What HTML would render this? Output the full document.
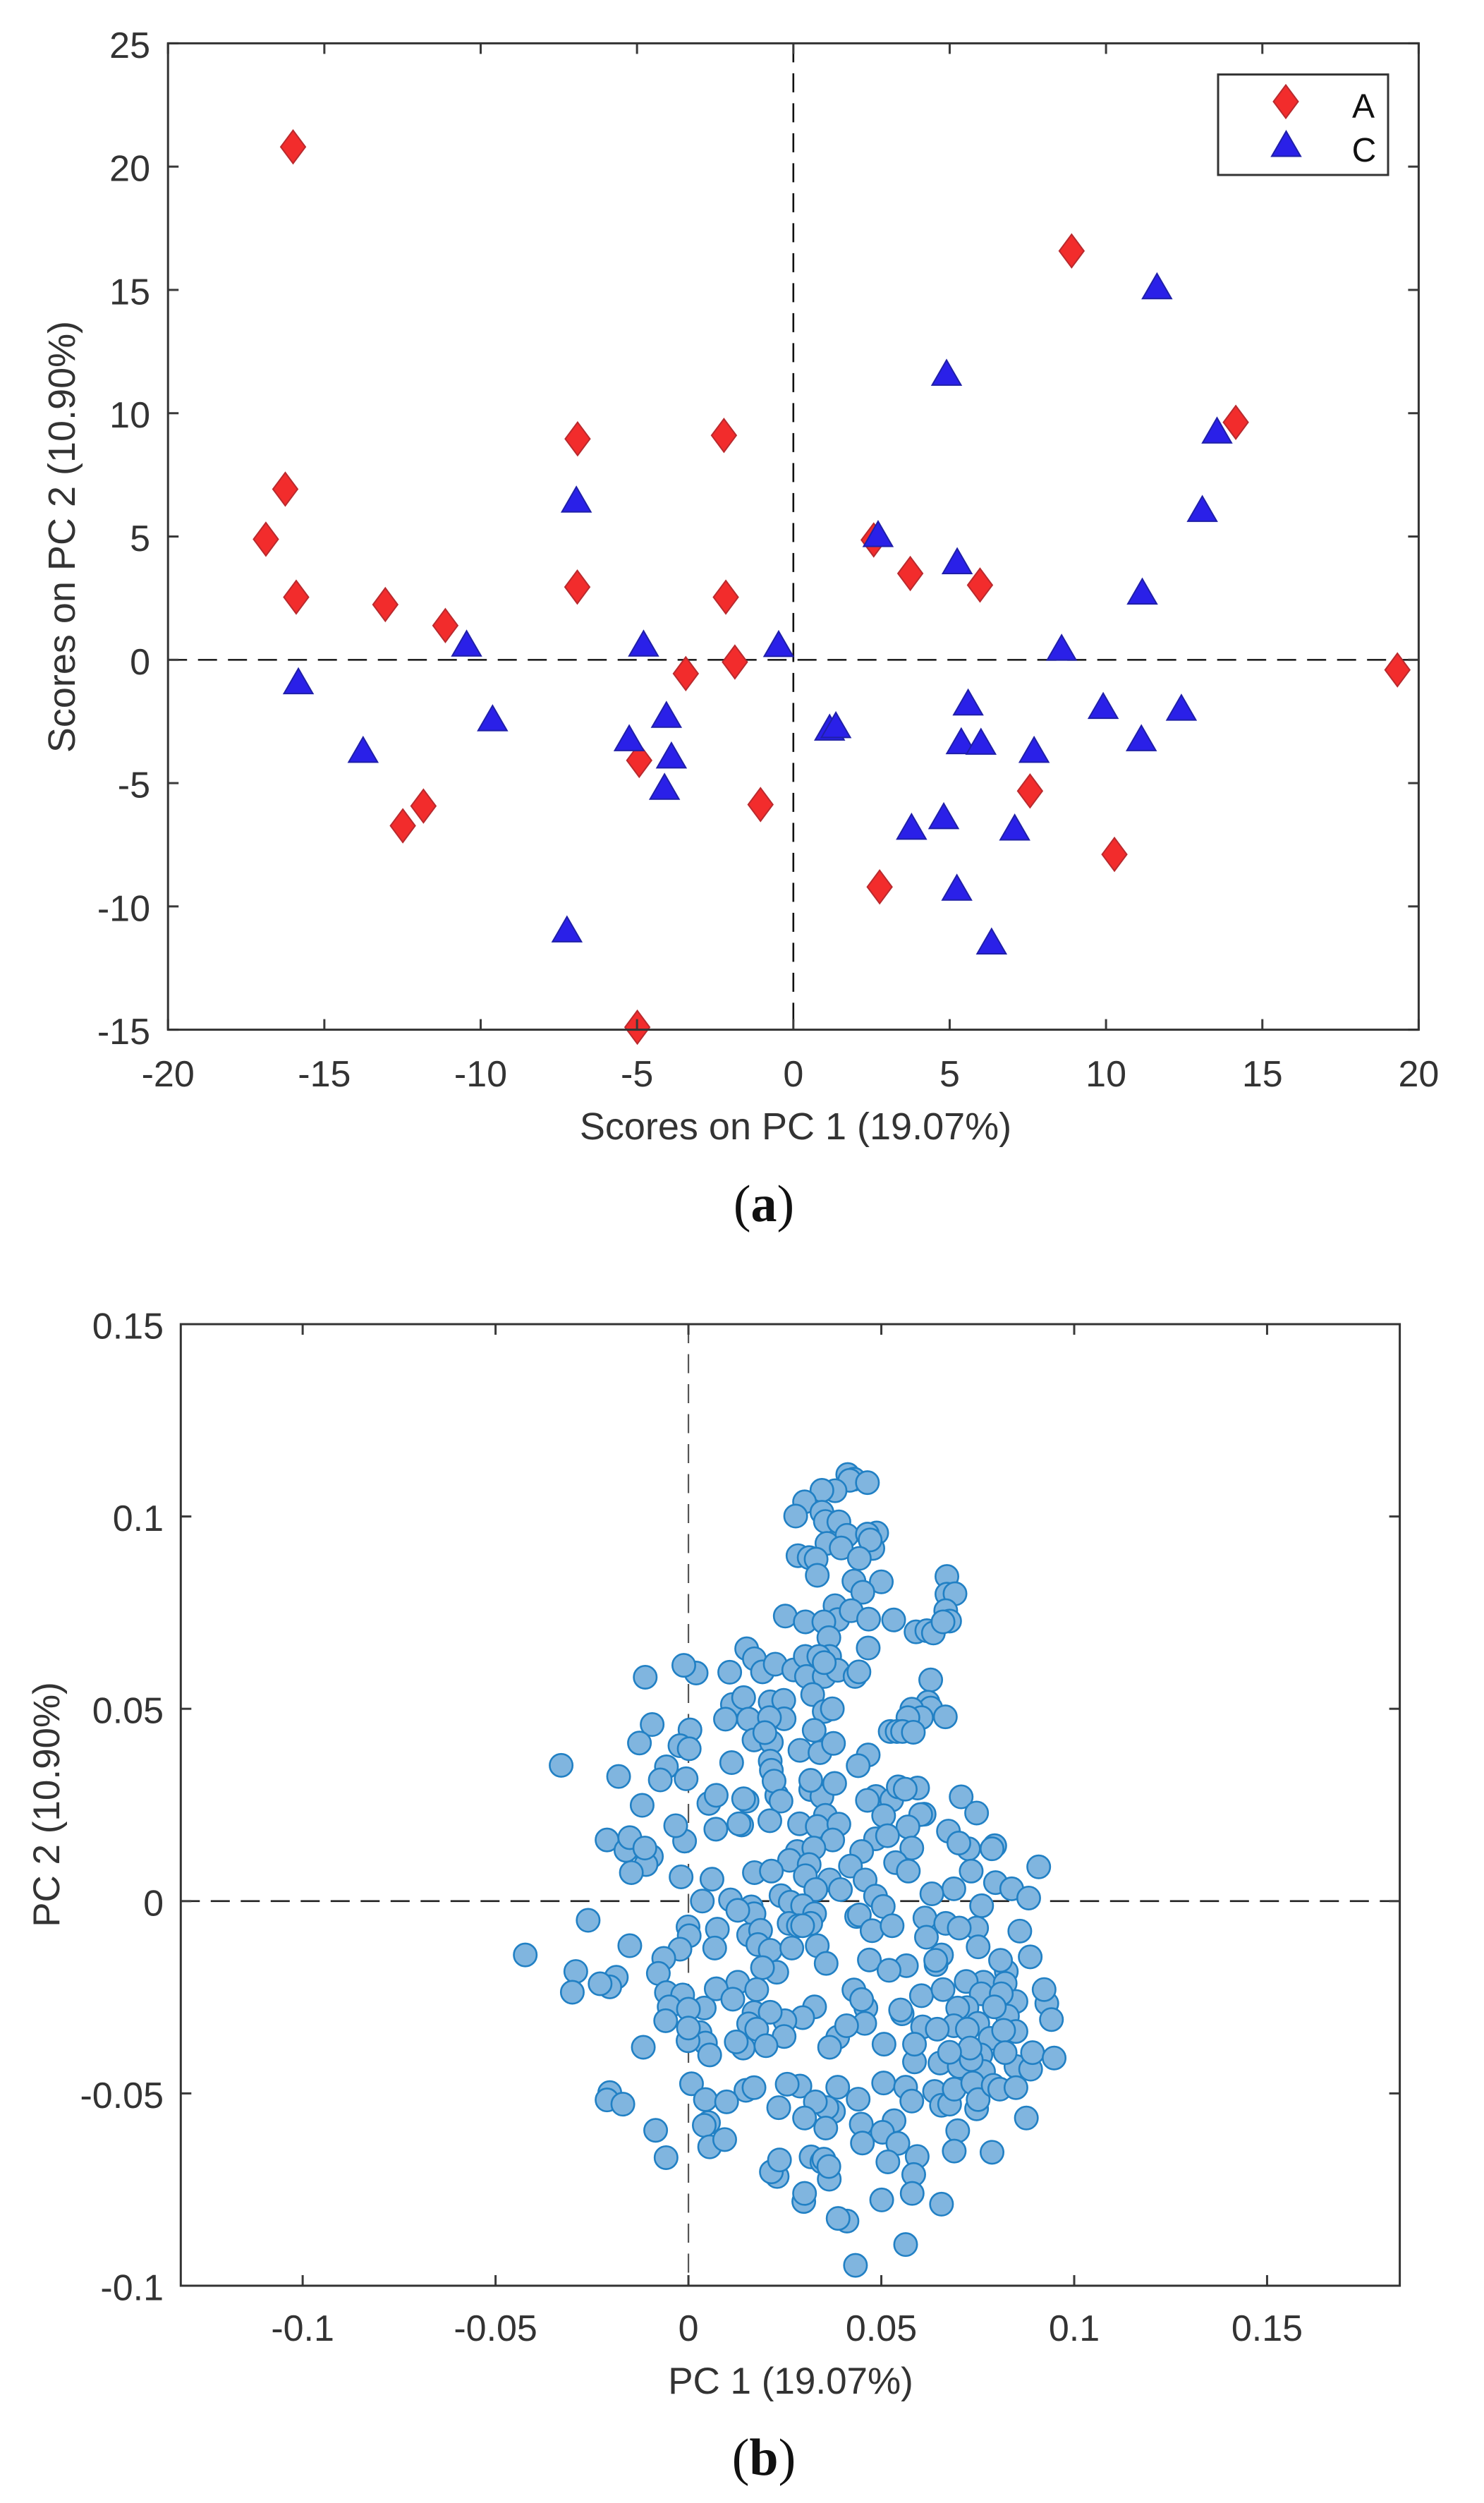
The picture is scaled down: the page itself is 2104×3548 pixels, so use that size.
<!DOCTYPE html>
<html>
<head>
<meta charset="utf-8">
<title>PCA score and loading plots</title>
<style>
html,body{margin:0;padding:0;background:#fff;}
svg{display:block;}
text{font-family:"Liberation Sans",Arial,sans-serif;fill:#333;}
.cap{font-family:"Liberation Serif","Times New Roman",serif;fill:#111;font-size:74px;}
</style>
</head>
<body>
<svg id="fig" xmlns="http://www.w3.org/2000/svg" width="2104" height="3548" viewBox="0 0 2104 3548">
  <rect x="0" y="0" width="2104" height="3548" fill="#fff"/>
  <g id="panelA"></g>
  <g id="panelB"></g>
  <text class="cap" x="1083" y="1731" text-anchor="middle">(<tspan font-weight="bold">a</tspan>)</text>
  <text class="cap" x="1083" y="3508" text-anchor="middle">(<tspan font-weight="bold">b</tspan>)</text>
</svg>
<script>
/* Panel (a): scores */
const groupAPc1 = [-16.0,-16.25,-16.87,-15.9,-13.05,-11.13,-6.9,-6.91,-2.22,-2.16,-1.87,-3.44,-4.93,-11.83,-12.49,-4.99,-1.05,7.57,10.27,2.76,19.32,8.9,14.15,2.57,3.74,5.97];
const groupAPc2 = [20.8,6.92,4.89,2.54,2.24,1.39,8.96,2.95,9.1,2.54,-0.09,-0.56,-4.08,-5.93,-6.73,-14.9,-5.87,-5.32,-7.89,-9.21,-0.41,16.58,9.63,4.86,3.5,3.03];
const groupCPc1 = [-6.94,11.63,4.9,13.55,13.08,2.71,5.24,11.16,-10.45,-4.79,-15.83,-9.62,-13.76,-4.06,-5.25,-3.9,-4.12,-7.24,-0.47,8.58,5.59,9.91,12.41,1.16,1.36,5.37,6.0,11.13,7.7,4.81,3.78,7.08,5.23,6.34];
const groupCPc2 = [6.5,15.15,11.64,9.3,6.12,5.1,4.0,2.77,0.66,0.66,-0.87,-2.37,-3.65,-2.23,-3.18,-3.88,-5.15,-10.93,0.64,0.49,-1.73,-1.87,-1.94,-2.75,-2.65,-3.3,-3.32,-3.18,-3.65,-6.34,-6.77,-6.8,-9.24,-11.42];
const scoreXTicks = [-20,-15,-10,-5,0,5,10,15,20];
const scoreYTicks = [-15,-10,-5,0,5,10,15,20,25];
const legendLabels = ["A","C"];

/* Panel (b): loadings, in units of 0.001 */
const loadingUnit = 0.001;
const loadingPc1 = [
41.3,42.9,41.8,46.4,38.0,34.6,30.1,27.8,34.6,35.5,39.0,41.1,48.8,46.4,35.9,47.8,39.6,47.1,44.3,28.4,31.3,33.1,33.4,42.9,50.0,45.2,67.0,67.0,69.1,66.7,67.7,59.0,61.8,63.5,66.0,38.0,25.1,30.3,38.7,35.1,42.2,46.7,53.2,36.4,46.6,15.1,17.1,19.2,22.5,27.3,30.3,36.6,33.8,30.6,35.2,38.7,35.2,43.2,44.2,10.7,32.2,62.8,62.1,62.8,66.6,57.9,60.4,56.9,52.3,54.1,55.5,58.3,11.4,14.3,9.6,15.6,21.2,24.7,24.8,21.0,35.2,37.3,32.6,17.0,21.5,19.8,28.9,34.1,37.6,46.6,44.0,11.2,21.2,21.5,
2.0,-1.2,-11.2,-9.4,-12.7,0.4,-2.2,0.2,-5.7,-33.0,
-18.1,-7.3,-0.6,-12.0,-1.0,-3.3,-21.1,-16.2,-15.2,-9.6,-11.0,-11.3,-14.8,-1.9,3.6,-26.0,-0.1,0.2,-15.2,-2.2,-6.4,-42.3,-7.8,-29.2,-18.7,-20.4,-22.9,-30.1,-5.7,-1.5,-5.0,4.1,-5.9,0.0,3.0,4.4,5.5,-0.1,0.0,-11.7,0.8,-20.4,-21.1,-17.0,4.4,
31.7,34.6,31.7,37.9,22.9,22.2,24.0,5.3,7.2,15.2,14.3,21.1,7.1,13.8,13.1,28.8,35.5,33.4,39.0,37.4,28.2,32.5,26.2,31.3,30.3,17.1,21.5,6.1,36.6,33.0,39.4,24.0,26.4,29.6,32.7,26.1,31.7,28.5,29.6,10.9,16.3,17.0,12.8,15.6,18.7,7.5,6.8,18.0,21.2,26.8,33.4,35.7,22.9,19.2,12.8,7.2,17.7,11.5,32.7,29.6,17.0,25.0,21.2,15.6,17.7,24.8,14.2,12.4,20.1,
48.6,46.4,52.7,54.4,59.4,56.2,50.6,61.1,60.2,56.9,48.5,51.6,44.9,57.9,42.0,53.7,57.0,45.8,48.5,50.5,43.6,44.3,47.6,52.8,
70.7,74.7,67.4,72.6,70.1,79.4,78.7,90.8,73.3,79.6,83.8,88.2,68.8,63.1,76.0,61.3,66.7,74.7,70.2,85.9,61.7,75.1,65.6,64.2,64.1,88.6,82.4,80.9,46.9,56.5,52.0,
42.9,46.0,44.9,45.7,38.7,41.0,36.6,55.4,55.0,60.4,66.0,76.5,82.1,72.0,75.9,84.9,81.1,72.2,92.9,92.2,94.1,69.8,82.7,79.3,68.8,60.7,64.5,75.0,72.3,84.9,78.2,81.7,50.7,58.6,58.6,65.2,75.8,76.5,70.2,73.3,84.9,88.7,73.0,67.7,82.1,89.2,94.8,
14.9,17.0,9.9,28.9,25.6,38.7,44.0,23.4,37.6,35.9,32.9,50.6,56.3,57.9,63.8,65.6,67.7,68.9,73.7,74.7,75.1,79.0,80.7,84.9,
87.6,44.8,35.6,53.3,50.3,45.1,54.3,69.8,68.9,78.7,59.3,51.7,58.4,58.0,50.1,65.6,41.1,38.8,56.3,43.3,29.9,30.1,23.0,21.5,23.6,31.8,36.5,34.6,35.1,36.4,30.1,5.2,4.1,5.5,9.4,-8.5,-5.8
];
const loadingPc2 = [
110.9,109.7,109.4,108.8,106.7,106.8,103.8,100.1,101.1,98.7,98.6,95.1,95.7,95.4,93.0,91.7,91.8,93.9,89.1,89.8,89.3,88.9,84.7,83.2,83.0,80.3,84.4,79.8,79.9,75.5,72.8,70.0,70.3,69.7,72.6,76.8,74.1,72.6,73.2,72.6,75.5,73.3,73.1,68.5,65.8,65.6,63.0,59.6,61.6,60.1,63.6,63.6,63.6,58.4,58.4,60.0,62.0,58.4,59.6,59.5,53.7,57.5,51.7,50.2,47.9,49.9,47.7,47.7,44.1,44.1,44.1,43.9,51.1,52.9,47.3,47.3,51.8,52.2,47.4,47.7,49.3,50.0,44.4,41.9,41.3,43.8,39.2,38.6,41.0,38.0,35.2,36.0,36.4,34.0,
59.3,61.3,58.2,45.9,41.1,44.5,40.4,39.6,34.9,35.3,
32.4,31.5,31.8,24.9,15.6,19.6,15.9,13.2,16.5,11.6,9.5,13.8,7.4,6.3,0.0,-5.0,-6.7,-9.0,-11.6,-12.5,-14.9,-14.0,-18.8,-18.3,-19.8,-22.3,-21.5,-23.7,-23.8,-24.4,-27.5,-27.8,-31.1,-28.1,-34.2,-36.9,-40.0,-36.3,-33.0,-38.0,-47.5,-49.8,-51.7,-52.8,-51.6,
29.0,27.2,31.4,30.6,27.5,31.2,26.0,25.4,27.5,26.0,26.6,20.9,18.7,19.8,20.1,20.1,22.3,19.4,20.0,15.9,12.9,13.8,10.6,9.5,6.6,7.4,7.8,5.7,5.5,3.0,3.0,1.4,-0.3,-1.2,-3.3,-5.8,-5.8,-6.4,-6.4,0.3,-1.5,-3.3,-2.4,-8.8,-7.6,-7.3,-12.2,-11.3,-12.8,-12.2,-11.6,-16.2,-18.5,-17.3,-21.1,-22.8,-23.0,-25.5,-27.5,-30.3,-29.0,-31.1,-28.9,-31.9,-33.3,-35.2,-38.2,-36.6,-37.6,
27.2,26.2,26.3,29.7,29.4,29.1,22.2,22.6,22.5,19.3,16.2,17.0,12.9,13.8,9.1,10.0,7.8,5.5,1.3,-1.4,-4.0,-3.6,-7.7,-6.4,
27.1,22.9,18.2,13.6,15.1,14.4,13.6,8.9,7.8,4.8,3.2,0.8,3.2,1.9,-1.2,-4.4,-5.8,-7.0,-7.0,-7.8,-9.4,-11.9,-14.0,-16.5,-15.4,-14.5,-18.3,-15.4,-15.3,-16.8,-18.0,
-23.1,-27.8,-25.6,-31.8,-35.4,-32.4,-38.0,-29.3,-28.3,-24.6,-23.0,-21.1,-21.4,-20.9,-24.1,-26.1,-24.1,-27.7,-26.6,-23.0,-30.8,-27.8,-29.9,-27.5,-32.4,-32.7,-33.3,-31.8,-33.3,-33.9,-35.7,-33.6,-37.2,-41.8,-37.2,-42.1,-40.0,-44.3,-43.0,-41.2,-43.0,-43.7,-38.2,-39.3,-39.4,-39.4,-40.8,
-49.2,-48.5,-52.2,-48.1,-47.6,-48.4,-51.5,-53.7,-54.7,-53.7,-52.2,-47.3,-48.4,-52.0,-49.5,-53.1,-52.8,-48.9,-47.3,-54.0,-51.6,-47.9,-48.9,-48.5,
-56.4,-58.0,-59.0,-57.1,-60.1,-62.9,-63.0,-59.7,-65.0,-65.3,-66.4,-67.8,-71.1,-76.0,-77.7,-78.8,-83.2,-82.5,-89.3,-94.7,-78.1,-76.0,-71.6,-70.4,-67.3,-66.5,-72.3,-67.8,-67.1,-69.0,-56.4,-57.6,-58.3,-63.9,-62.0,-59.6,-66.7
];
const loadingXTicks = [-0.1,-0.05,0,0.05,0.1,0.15];
const loadingYTicks = [-0.1,-0.05,0,0.05,0.1,0.15];

const NS = "http://www.w3.org/2000/svg";
function mk(parent, tag, attrs, txt) {
  const e = document.createElementNS(NS, tag);
  for (const k in attrs) e.setAttribute(k, attrs[k]);
  if (txt !== undefined) e.textContent = txt;
  parent.appendChild(e);
  return e;
}

/* axis functions */
const ax = { l: 238.2, r: 2011.4, t: 61.4, b: 1459.6, x0: -20, x1: 20, y0: -15, y1: 25 };
const bx = { l: 256.3, r: 1984.6, t: 1877, b: 3240, x0: -0.1316, x1: 0.1844, y0: -0.1, y1: 0.15 };
function sx(p, v) { return p.l + (v - p.x0) / (p.x1 - p.x0) * (p.r - p.l); }
function sy(p, v) { return p.b - (v - p.y0) / (p.y1 - p.y0) * (p.b - p.t); }

function drawAxes(g, p, xt, yt, xBase, yRight, fs) {
  for (const v of xt) {
    const x = sx(p, v);
    const t1 = mk(g, "line", { x1: x, x2: x, y1: p.b, y2: p.b - 15, stroke: "#3a3a3a", "stroke-width": 3 });
    
    
    const t2 = mk(g, "line", { x1: x, x2: x, y1: p.t, y2: p.t + 15, stroke: "#3a3a3a", "stroke-width": 3 });
    
    
    const l = mk(g, "text", { x: x, y: xBase, "text-anchor": "middle", "font-size": fs }, String(v));
    
    
  }
  for (const v of yt) {
    const y = sy(p, v);
    const t1 = mk(g, "line", { x1: p.l, x2: p.l + 15, y1: y, y2: y, stroke: "#3a3a3a", "stroke-width": 3 });
    
    
    const t2 = mk(g, "line", { x1: p.r, x2: p.r - 15, y1: y, y2: y, stroke: "#3a3a3a", "stroke-width": 3 });
    
    
    const l = mk(g, "text", { x: yRight, y: y + 20.5, "text-anchor": "end", "font-size": fs }, String(v));
    
    
  }
  const frame = mk(g, "rect", { x: p.l, y: p.t, width: p.r - p.l, height: p.b - p.t, fill: "none", stroke: "#333", "stroke-width": 3 });
  
  
}

function drawZero(g, p, hCol, vCol, hW, vW) {
  const h = mk(g, "line", { x1: p.l, x2: p.r, y1: sy(p, 0), y2: sy(p, 0), stroke: hCol, "stroke-width": hW, "stroke-dasharray": "27 15.5" });
  
  
  const v = mk(g, "line", { x1: sx(p, 0), x2: sx(p, 0), y1: p.t, y2: p.b, stroke: vCol, "stroke-width": vW, "stroke-dasharray": "27 15.5" });
  
  
}

function diamondPts(cx, cy) {
  return [[cx, cy - 23.5], [cx + 17.5, cy], [cx, cy + 23.5], [cx - 17.5, cy]].map(a => a.join(",")).join(" ");
}
function trianglePts(cx, cy) {
  return [[cx, cy - 18], [cx + 20.5, cy + 17.5], [cx - 20.5, cy + 17.5]].map(a => a.join(",")).join(" ");
}
const RED = { fill: "#f22c2c", stroke: "#b92a2e", "stroke-width": 2 };
const BLUE = { fill: "#2a20e8", stroke: "#1f1fa8", "stroke-width": 2 };

/* Panel A */
const gA = document.getElementById("panelA");
drawZero(gA, ax, "#222", "#111", 2.6, 2.6);
groupAPc1.forEach((v, i) => {
  const m = mk(gA, "polygon", Object.assign({ points: diamondPts(sx(ax, v), sy(ax, groupAPc2[i])) }, RED));
  
  
});
groupCPc1.forEach((v, i) => {
  const m = mk(gA, "polygon", Object.assign({ points: trianglePts(sx(ax, v), sy(ax, groupCPc2[i])) }, BLUE));
  
  
});
drawAxes(gA, ax, scoreXTicks, scoreYTicks, 1540, 213, 52);

const xTitleA = mk(gA, "text", { x: 1128, y: 1615, "text-anchor": "middle", "font-size": 54 }, "Scores on PC 1 (19.07%)");


const yTitleA = mk(gA, "text", { x: 0, y: 0, "text-anchor": "middle", "font-size": 54, transform: "translate(106 761) rotate(-90)" }, "Scores on PC 2 (10.90%)");



/* Legend */
const legend = mk(gA, "g", {});


const legBox = mk(legend, "rect", { x: 1727, y: 105.6, width: 241, height: 142.4, fill: "#fff", stroke: "#333", "stroke-width": 3 });


const legA = mk(legend, "polygon", Object.assign({ points: diamondPts(1823, 144) }, RED));


const legC = mk(legend, "polygon", Object.assign({ points: trianglePts(1823.5, 204) }, BLUE));


const legTA = mk(legend, "text", { x: 1933, y: 166.5, "text-anchor": "middle", "font-size": 48, style: "fill:#111" }, legendLabels[0]);


const legTC = mk(legend, "text", { x: 1934, y: 229, "text-anchor": "middle", "font-size": 48, style: "fill:#111" }, legendLabels[1]);



/* Panel B */
const gB = document.getElementById("panelB");
drawZero(gB, bx, "#222", "#555", 2.6, 2.2);
loadingPc1.forEach((v, i) => {
  const c = mk(gB, "circle", {
    cx: sx(bx, v * loadingUnit),
    cy: sy(bx, loadingPc2[i] * loadingUnit),
    r: 16.2,
    fill: "#80b5df",
    stroke: "#2180c4",
    "stroke-width": 2.6
  });
  
  
});
drawAxes(gB, bx, loadingXTicks, loadingYTicks, 3318, 232, 52);

const xTitleB = mk(gB, "text", { x: 1121, y: 3393, "text-anchor": "middle", "font-size": 53 }, "PC 1 (19.07%)");


const yTitleB = mk(gB, "text", { x: 0, y: 0, "text-anchor": "middle", "font-size": 53, transform: "translate(84 2558) rotate(-90)" }, "PC 2 (10.90%)");


</script>
</body>
</html>
